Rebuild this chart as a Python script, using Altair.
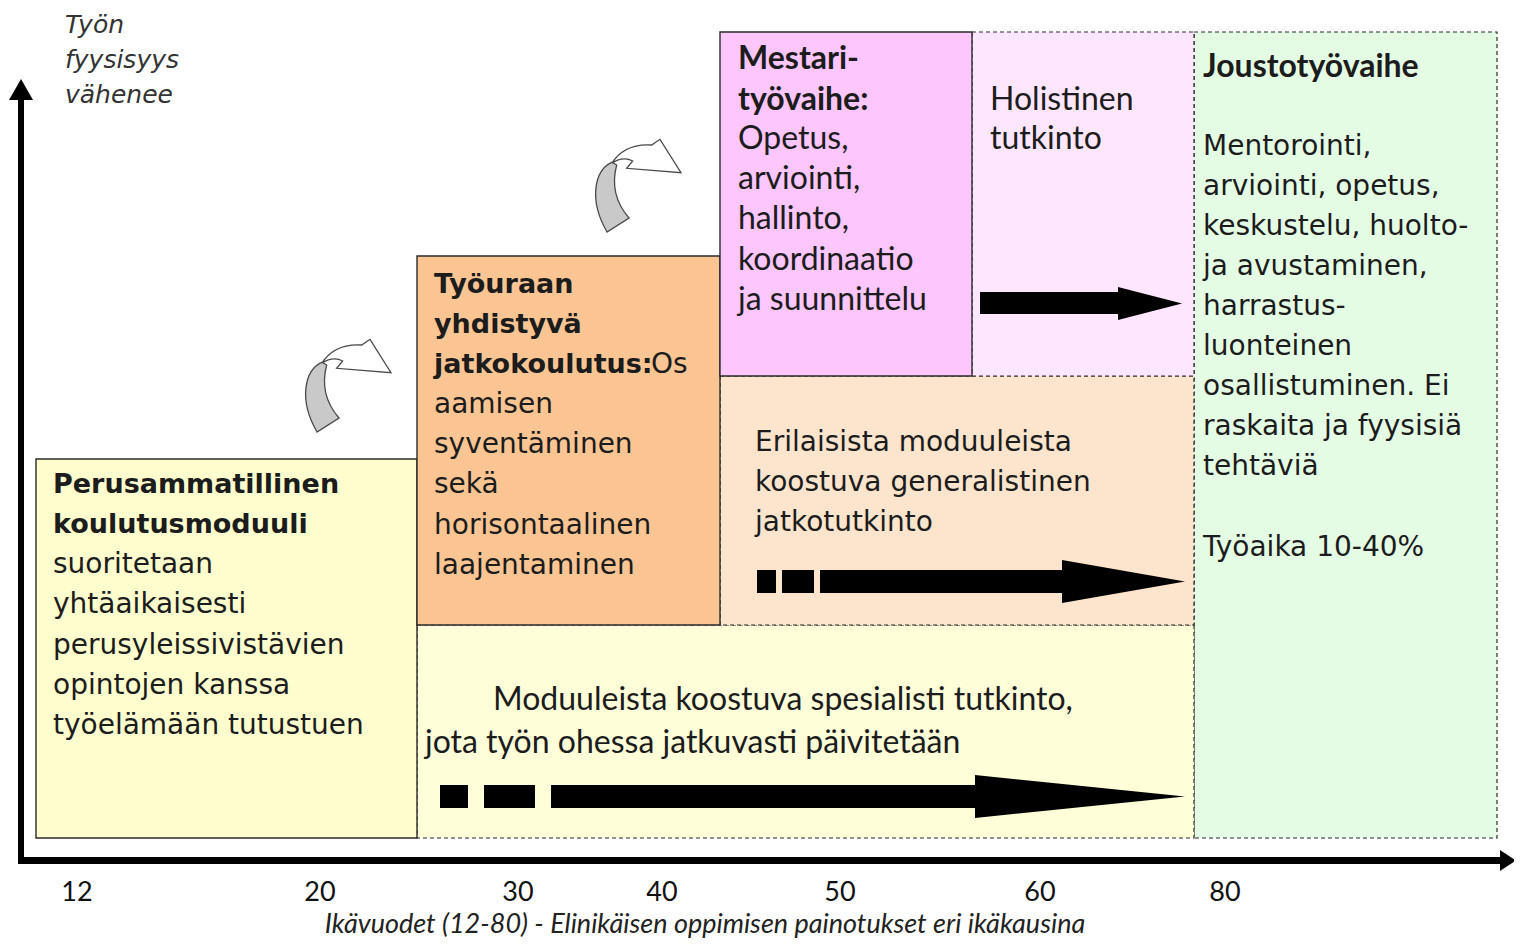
import altair as alt
import pandas as pd

# ---------------- layout data (canvas coordinates, 1522 x 947) ----------------
# background (dashed) regions
dash_id = ["joustotyo", "spesialisti", "generalisti", "holistinen"]
dash_x0 = [1194, 417, 720, 972]
dash_x1 = [1497, 1194, 1194, 1194]
dash_y0 = [32, 625, 376, 32]
dash_y1 = [838, 838, 625, 376]
dash_fill = ["#e4fce4", "#fefed9", "#fde4cc", "#fee6fe"]

# stage boxes (solid)
solid_id = ["perus", "tyouraan", "mestari"]
solid_x0 = [36, 417, 720]
solid_x1 = [417, 720, 972]
solid_y0 = [459, 256, 32]
solid_y1 = [838, 625, 376]
solid_fill = ["#fdfdcd", "#fbc593", "#fdc6fc"]

# black arrow shafts / dash segments
shaft_x0 = [980, 757, 782, 820, 440, 484, 551, 18]
shaft_x1 = [1120, 776, 814, 1064, 468, 535, 977, 1506]
shaft_y0 = [292, 570, 570, 570, 785, 785, 785, 857]
shaft_y1 = [314, 593, 593, 593, 808, 808, 808, 864]

# right-pointing arrow heads: base x, tip x, top y, bottom y
head_id = ["h1", "h2", "h3", "hx"]
head_base = [1118, 1062, 975, 1500]
head_tip = [1182, 1185, 1185, 1516]
head_top = [287, 560, 775, 850]
head_bot = [320, 603, 818, 871]

# vertical axis arrow
yaxis_x0, yaxis_x1, yaxis_top, yaxis_bot = 18, 24, 98, 864
yhead_base, yhead_tip, yhead_left, yhead_right = 100, 79, 9, 33

# curved "step up" arrows (centres)
curve_x = [342, 632]
curve_y = [384, 184]

# axis tick labels
tick_labels = ["12", "20", "30", "40", "50", "60", "80"]
tick_x = [77, 320, 518, 662, 840, 1040, 1225]
tick_y = 893
axis_title = "Ikävuodet  (12-80)  -  Elinikäisen oppimisen painotukset eri ikäkausina"

# texts
ylabel_lines = ["Työn", "fyysisyys", "vähenee"]
perus_bold = ["Perusammatillinen", "koulutusmoduuli"]
perus_text = ["suoritetaan", "yhtäaikaisesti", "perusyleissivistävien",
              "opintojen kanssa", "työelämään tutustuen"]
tyo_bold = ["Työuraan", "yhdistyvä", "jatkokoulutus:"]
tyo_text = ["aamisen", "syventäminen", "sekä", "horisontaalinen", "laajentaminen"]
mestari_bold = ["Mestari-", "työvaihe:"]
mestari_text = ["Opetus,", "arviointi,", "hallinto,", "koordinaatio", "ja suunnittelu"]
holist_text = ["Holistinen", "tutkinto"]
jousto_title = "Joustotyövaihe"
jousto_text = ["Mentorointi,", "arviointi, opetus,", "keskustelu, huolto-",
               "ja avustaminen,", "harrastus-", "luonteinen",
               "osallistuminen. Ei", "raskaita ja fyysisiä", "tehtäviä"]
jousto_time = "Työaika 10-40%"
gen_text = ["Erilaisista moduuleista", "koostuva generalistinen", "jatkotutkinto"]
spec_text = ["Moduuleista koostuva spesialisti tutkinto,",
             "jota työn ohessa  jatkuvasti päivitetään"]

# ---------------- helpers ----------------
XS = alt.Scale(domain=[8, 1514], nice=False, zero=False)
YS = alt.Scale(domain=[8, 939], nice=False, zero=False, reverse=True)
INK = "#1c1c1c"
WIDE = "DejaVu Sans"
NARROW = "Lato"


def xq(f):
    return alt.X(f"{f}:Q", scale=XS, axis=None)


def yq(f):
    return alt.Y(f"{f}:Q", scale=YS, axis=None)


def lines(texts, x, y0, step):
    return [{"t": t, "x": x, "y": y0 + i * step} for i, t in enumerate(texts)]


def text_layer(rows, font, size, weight="normal", style="normal", align="left", color=INK):
    return alt.Chart(pd.DataFrame(rows)).mark_text(
        font=font, fontSize=size, fontWeight=weight, fontStyle=style,
        align=align, baseline="middle", color=color
    ).encode(x=xq("x"), y=yq("y"), text="t:N")


def boxes(ids, x0, x1, y0, y1, fill, dash):
    df = pd.DataFrame({"id": ids, "x": x0, "x2": x1, "y": y0, "y2": y1, "fill": fill})
    kw = dict(stroke="#2b2b2b", strokeWidth=1.4 if not dash else 1.2)
    if dash:
        kw["strokeDash"] = [4, 3]
    return alt.Chart(df).mark_rect(**kw).encode(
        x=xq("x"), x2="x2:Q", y=yq("y"), y2="y2:Q",
        color=alt.Color("fill:N", scale=None))


layers = []
layers.append(boxes(dash_id, dash_x0, dash_x1, dash_y0, dash_y1, dash_fill, True))
layers.append(boxes(solid_id, solid_x0, solid_x1, solid_y0, solid_y1, solid_fill, False))

# shafts
shaft_df = pd.DataFrame({"x": shaft_x0 + [yaxis_x0], "x2": shaft_x1 + [yaxis_x1],
                         "y": shaft_y0 + [yaxis_top], "y2": shaft_y1 + [yaxis_bot]})
layers.append(alt.Chart(shaft_df).mark_rect(color="black").encode(
    x=xq("x"), x2="x2:Q", y=yq("y"), y2="y2:Q"))

# right-pointing heads as triangles (area)
rows = []
for i, h in enumerate(head_id):
    mid = (head_top[i] + head_bot[i]) / 2
    rows.append({"id": h, "x": head_base[i], "y": head_top[i], "y2": head_bot[i]})
    rows.append({"id": h, "x": head_tip[i], "y": mid, "y2": mid})
layers.append(alt.Chart(pd.DataFrame(rows)).mark_area(color="black", orient="vertical", opacity=1).encode(
    x=xq("x"), y=yq("y"), y2="y2:Q", detail="id:N"))

# upward head of the vertical axis
ymid = (yhead_left + yhead_right) / 2
yh = pd.DataFrame([{"id": "hy", "y": yhead_base, "x": yhead_left, "x2": yhead_right},
                   {"id": "hy", "y": yhead_tip, "x": ymid, "x2": ymid}])
layers.append(alt.Chart(yh).mark_area(color="black", orient="horizontal", opacity=1).encode(
    y=yq("y"), x=xq("x"), x2="x2:Q", detail="id:N"))

# curved arrows (custom symbol shapes, unit = 50px)
WHITE_PATH = ("M -0.406 -0.414 Q -0.14 -0.82 0.394 -0.78 L 0.56 -0.894 L 0.98 -0.226 "
              "L -0.106 -0.314 L 0.014 -0.46 Q -0.18 -0.56 -0.406 -0.414 Z")
GRAY_PATH = ("M -0.406 -0.434 C -0.74 -0.28 -0.88 0.3 -0.5 0.96 L -0.06 0.68 "
             "C -0.34 0.354 -0.406 -0.014 -0.306 -0.38 Z")
cdf = pd.DataFrame({"x": curve_x, "y": curve_y})
for path, fill in [(WHITE_PATH, "#ffffff"), (GRAY_PATH, "#c9c9c9")]:
    layers.append(alt.Chart(cdf).mark_point(
        shape=path, size=10000, filled=True, fill=fill, stroke="#4a4a4a",
        strokeWidth=1.3, opacity=1, fillOpacity=1, strokeOpacity=1).encode(
        x=xq("x"), y=yq("y")))

# texts
layers.append(text_layer(lines(ylabel_lines, 65, 25, 35), WIDE, 25, style="italic", color="#333333"))
layers.append(text_layer(lines(perus_bold, 53, 485, 40) + lines(tyo_bold, 434, 285, 40),
                         WIDE, 27, weight="bold"))
layers.append(text_layer(lines(perus_text, 53, 565, 40.3) + lines(tyo_text, 434, 405, 40.2)
                         + [{"t": "Os", "x": 651, "y": 365}]
                         + lines(gen_text, 755, 443, 40)
                         + lines(jousto_text, 1203, 147, 40)
                         + [{"t": jousto_time, "x": 1203, "y": 548}],
                         WIDE, 28))
layers.append(text_layer(lines(mestari_bold, 738, 59, 40.5) + [{"t": jousto_title, "x": 1203, "y": 67}],
                         NARROW, 32, weight="bold"))
layers.append(text_layer(lines(mestari_text, 738, 139, 40.2) + lines(holist_text, 990, 100, 39)
                         + [{"t": spec_text[0], "x": 493, "y": 700},
                            {"t": spec_text[1], "x": 425, "y": 743}],
                         NARROW, 32))
layers.append(text_layer([{"t": t, "x": x, "y": tick_y} for t, x in zip(tick_labels, tick_x)],
                         NARROW, 27, align="center", color="#111111"))
layers.append(text_layer([{"t": axis_title, "x": 705, "y": 925}], NARROW, 27, style="italic",
                         align="center", color="#222222"))

chart = alt.layer(*layers).properties(
    width=1506, height=931, padding=0, background="white",
    autosize=alt.AutoSizeParams(type="none")
).configure_view(stroke=None)

chart.save("out.html", embed_options={"renderer": "svg", "actions": False})
